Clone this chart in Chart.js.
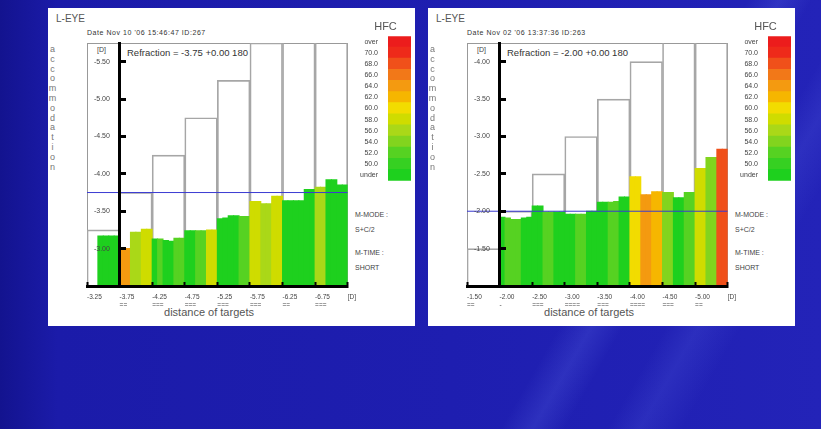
<!DOCTYPE html>
<html><head><meta charset="utf-8">
<script src="https://cdn.jsdelivr.net/npm/chart.js@4.4.1/dist/chart.umd.min.js"></script>
<style>
html,body{margin:0;padding:0;}
body{width:821px;height:429px;overflow:hidden;position:relative;font-family:"Liberation Sans",Arial,sans-serif;
 background:
  linear-gradient(120deg, rgba(0,0,0,0) 0%, rgba(0,0,0,0) 70%, rgba(120,140,255,0.16) 73%, rgba(0,0,0,0) 76%, rgba(0,0,0,0) 80%, rgba(120,140,255,0.12) 83%, rgba(0,0,0,0) 87%),
  linear-gradient(90deg, #13138f 0%, #1b1ba9 7%, #1e1eb0 55%, #2323b8 100%);}
.panel{position:absolute;top:8px;width:367px;height:318px;background:#fff;}
.panel canvas{position:absolute;}
.t{position:absolute;white-space:nowrap;color:#444;line-height:1;}
.vert{position:absolute;width:9px;text-align:center;color:#777;font-size:9px;line-height:9.8px;}
</style></head><body>
<div class="panel" id="pL" style="left:48px"></div>
<div class="panel" id="pR" style="left:428px"></div>
<script>
// ---------------- data ----------------
const yAxisTitle = 'accommodation';
const xAxisTitle = 'distance of targets';
const hfcLabels = ['over','70.0','68.0','66.0','64.0','62.0','60.0','58.0','56.0','54.0','52.0','50.0','under'];
const hfcColors = ['#ec1c1c','#ee2a1a','#f0501a','#f27818','#f49a10','#f6b600','#f2dc00','#cfdc00','#aad818','#82d41e','#56d222','#36d022','#1ed01e'];

// left measurement
const leftTitle = 'L-EYE';
const leftDate = "Date Nov 10 '06 15:46:47   ID:267";
const leftRefractionText = 'Refraction = -3.75 +0.00 180';
const leftTargets = ['-3.25','-3.75','-4.25','-4.75','-5.25','-5.75','-6.25','-6.75'];
const leftTargetMarks = ['', '==', '===', '===', '===', '===', '==', '==='];
const leftTargetLevels = [-3.25,-3.75,-4.25,-4.75,-5.25,-5.75,-6.25,-6.75];
const leftAccommodation = [
  null, null, -3.17, -3.17, -3.17, -3.17,
  -3.00, -3.00, -3.22, -3.22, -3.26, -3.26,
  -3.13, -3.13, -3.11, -3.10, -3.14, -3.14,
  -3.24, -3.24, -3.24, -3.24, -3.25, -3.25,
  -3.40, -3.41, -3.44, -3.44, -3.43, -3.43,
  -3.63, -3.63, -3.60, -3.60, -3.70, -3.70,
  -3.64, -3.64, -3.64, -3.64, -3.79, -3.79,
  -3.82, -3.82, -3.92, -3.92, -3.85, -3.85
];
const leftHfc = [
  null, null, 49, 49, 49, 49,
  64, 64, 56, 56, 58, 58,
  49, 52, 49, 49, 52, 52,
  49, 49, 52, 52, 58, 58,
  49, 49, 49, 49, 52, 52,
  58, 58, 56, 56, 58, 58,
  49, 49, 49, 49, 49, 49,
  56, 56, 49, 49, 49, 49
];
const leftYTicks = [-5.5,-5.0,-4.5,-4.0,-3.5,-3.0];
const leftYRange = [-5.75, -2.5];
const leftRefraction = -3.75;

// right measurement
const rightTitle = 'L-EYE';
const rightDate = "Date Nov 02 '06 13:37:36   ID:263";
const rightRefractionText = 'Refraction = -2.00 +0.00 180';
const rightTargets = ['-1.50','-2.00','-2.50','-3.00','-3.50','-4.00','-4.50','-5.00'];
const rightTargetMarks = ['==', '-', '===', '====', '===', '====', '===', '=='];
const rightTargetLevels = [-1.5,-2.0,-2.5,-3.0,-3.5,-4.0,-4.5,-5.0];
const rightAccommodation = [
  null, null, null, null, null, null,
  -1.92, -1.91, -1.89, -1.89, -1.91, -1.92,
  -2.07, -2.07, -1.99, -1.99, -1.99, -1.99,
  -1.96, -1.96, -1.96, -1.96, -2.00, -2.00,
  -2.12, -2.12, -2.12, -2.13, -2.19, -2.19,
  -2.46, -2.46, -2.22, -2.22, -2.26, -2.26,
  -2.25, -2.25, -2.18, -2.18, -2.25, -2.25,
  -2.57, -2.57, -2.72, -2.72, -2.83, -2.83
];
const rightHfc = [
  null, null, null, null, null, null,
  49, 52, 52, 52, 49, 49,
  49, 49, 52, 52, 49, 49,
  49, 49, 52, 52, 49, 49,
  49, 49, 52, 52, 49, 49,
  60, 60, 64, 64, 62, 62,
  54, 54, 49, 49, 52, 52,
  58, 58, 54, 54, 68, 68
];
const rightYTicks = [-4.0,-3.5,-3.0,-2.5,-2.0,-1.5];
const rightYRange = [-4.25, -1.0];
const rightRefraction = -2.00;

const sideNotes = ['M-MODE :', 'S+C/2', 'M-TIME :', 'SHORT'];

// ---------------- drawing ----------------
const F = '"Liberation Sans", Arial, sans-serif';
Chart.defaults.font.family = F;

function hfcColor(level) {
  if (level === null || level === undefined) return 'rgba(0,0,0,0)';
  let idx;
  if (level > 70) idx = 0; else if (level < 50) idx = 12; else idx = Math.round((70 - level) / 2) + 1;
  return hfcColors[idx];
}

function addText(panel, text, left, top, size, color, extra) {
  const d = document.createElement('div');
  d.className = 't';
  d.textContent = text;
  d.style.left = left + 'px';
  d.style.top = top + 'px';
  d.style.fontSize = size + 'px';
  if (color) d.style.color = color;
  if (extra) Object.assign(d.style, extra);
  panel.appendChild(d);
}

function makeCanvas(panel, left, top, w, h) {
  const c = document.createElement('canvas');
  c.width = w; c.height = h;
  c.style.left = left + 'px'; c.style.top = top + 'px';
  c.style.width = w + 'px'; c.style.height = h + 'px';
  panel.appendChild(c);
  return c;
}

function buildPanel(panel, cfg) {
  const nSec = cfg.targets.length;
  const sub = cfg.acc.length / nSec;
  const [yMin, yMax] = cfg.yRange;
  const xLabels = cfg.targets.map((t, i) => cfg.marks[i] ? [t, cfg.marks[i]] : [t, ' ']).concat(['[D]']);

  addText(panel, cfg.title, 8, 6, 10, '#555');
  addText(panel, cfg.date, 39, 21, 7, '#333', {letterSpacing: '0.55px'});
  addText(panel, cfg.refText, 79, 39.5, 9.5, '#333');
  addText(panel, '[D]', 49, 37.5, 7, '#444');
  addText(panel, xAxisTitle, 161, 298.5, 11, '#555', {transform: 'translateX(-50%)'});
  const noteTops = [202.5, 217.5, 240.5, 255.5];
  sideNotes.forEach((s, i) => addText(panel, s, 307, noteTops[i], 7, '#444'));
  const v = document.createElement('div');
  v.className = 'vert';
  v.style.left = '0px'; v.style.top = '37px';
  v.innerHTML = yAxisTitle.split('').join('<br>');
  panel.appendChild(v);

  const c = makeCanvas(panel, 0, 0, 320, 318);
  new Chart(c, {
    type: 'bar',
    data: {
      datasets: [
        {
          type: 'line',
          data: [{x: 0, y: cfg.refraction}, {x: nSec, y: cfg.refraction}],
          xAxisID: 'x', yAxisID: 'y',
          borderColor: '#3a3ad2', borderWidth: 1, pointRadius: 0, order: 0
        },
        {
          type: 'bar',
          data: cfg.acc.map((val, i) => ({x: Math.floor(i / sub) + ((i % sub) + 0.5) / sub, y: val})),
          xAxisID: 'x', yAxisID: 'y',
          base: yMax,
          backgroundColor: ctx => hfcColor(cfg.hfc[ctx.dataIndex]),
          borderWidth: 0, inflateAmount: 0.5,
          barPercentage: 1, categoryPercentage: 1, grouped: false,
          order: 1, clip: 0
        },
        {
          type: 'bar',
          data: cfg.levels.map((val, j) => ({x: j + 0.5, y: val})),
          xAxisID: 'x2', yAxisID: 'y',
          base: yMax,
          backgroundColor: 'rgba(0,0,0,0)',
          borderColor: '#a6a6a6', borderWidth: 1, borderSkipped: 'start',
          barPercentage: 1, categoryPercentage: 1, grouped: false,
          order: 2, clip: 0
        }
      ]
    },
    options: {
      responsive: false, animation: false, devicePixelRatio: 1,
      layout: {padding: {left: 0, top: 35, right: 15, bottom: 0}},
      plugins: {legend: {display: false}, tooltip: {enabled: false}},
      scales: {
        x: {
          type: 'linear', position: 'bottom', min: 0, max: nSec, offset: false,
          afterBuildTicks: s => { s.ticks = xLabels.map((_, i) => ({value: i})); },
          afterFit: s => { s.height = 40; },
          ticks: {autoSkip: false, maxRotation: 0, minRotation: 0, align: 'start', padding: 12,
                  color: '#444', font: {size: 6.5, lineHeight: 1.1}, z: 1,
                  callback: (val, i) => xLabels[i]},
          grid: {display: true, drawOnChartArea: false, drawTicks: true, tickLength: -4, tickWidth: 2, tickColor: '#000', z: 1, offset: false},
          border: {display: true, color: '#000', width: 3, z: 1}
        },
        x2: {
          type: 'linear', display: false, min: 0, max: nSec, offset: false,
          afterBuildTicks: s => { s.ticks = xLabels.map((_, i) => ({value: i})); }
        },
        xTop: {
          type: 'linear', position: 'top', min: 0, max: nSec, offset: false,
          ticks: {display: false}, grid: {display: false},
          border: {display: true, color: '#999', width: 1},
          afterFit: s => { s.height = 0; }
        },
        y: {
          type: 'linear', position: {x: 1}, min: yMin, max: yMax, reverse: true, beginAtZero: false,
          afterBuildTicks: s => { s.ticks = cfg.yTicks.map(val => ({value: val})); },
          ticks: {autoSkip: false, padding: 0, color: '#444', font: {size: 7}, z: 1,
                  callback: val => val.toFixed(2) + '     '},
          grid: {display: true, drawOnChartArea: false, drawTicks: true, tickLength: -8, tickWidth: 3, tickColor: '#000', z: 1},
          border: {display: true, color: '#000', width: 3, z: 1}
        },
        yLetters: {
          type: 'linear', position: 'left', min: 0, max: 1,
          afterFit: s => { s.width = 39; },
          ticks: {display: false},
          grid: {display: false},
          border: {display: true, color: '#999', width: 1}
        },
        yRight: {
          type: 'linear', position: 'right', min: 0, max: 1,
          ticks: {display: false}, grid: {display: false},
          border: {display: true, color: '#999', width: 1},
          afterFit: s => { s.width = 0; }
        }
      }
    }
  });

  const lc = makeCanvas(panel, 312, 10, 53, 169);
  new Chart(lc, {
    type: 'bar',
    data: {labels: hfcLabels, datasets: [{data: hfcLabels.map(() => [0, 1]), backgroundColor: hfcColors,
      borderWidth: 0, barPercentage: 1, categoryPercentage: 1, inflateAmount: 0.6}]},
    options: {
      indexAxis: 'y', responsive: false, animation: false, devicePixelRatio: 1,
      layout: {padding: {left: 0, right: 2, top: 0, bottom: 3}},
      plugins: {legend: {display: false}, tooltip: {enabled: false},
        title: {display: true, text: 'HFC', color: '#555', align: 'center',
                font: {size: 11, weight: 'normal'}, padding: {top: 2, bottom: 3}}},
      scales: {
        x: {display: false, min: 0, max: 1},
        y: {position: 'left', afterFit: s => { s.width = 28; },
            ticks: {autoSkip: false, padding: 2, color: '#444', font: {size: 7}},
            grid: {display: false}, border: {display: false}}
      }
    }
  });
}

buildPanel(document.getElementById('pL'), {
  title: leftTitle, date: leftDate, refText: leftRefractionText,
  targets: leftTargets, marks: leftTargetMarks, levels: leftTargetLevels,
  acc: leftAccommodation, hfc: leftHfc, yTicks: leftYTicks, yRange: leftYRange, refraction: leftRefraction
});
buildPanel(document.getElementById('pR'), {
  title: rightTitle, date: rightDate, refText: rightRefractionText,
  targets: rightTargets, marks: rightTargetMarks, levels: rightTargetLevels,
  acc: rightAccommodation, hfc: rightHfc, yTicks: rightYTicks, yRange: rightYRange, refraction: rightRefraction
});
</script></body></html>
